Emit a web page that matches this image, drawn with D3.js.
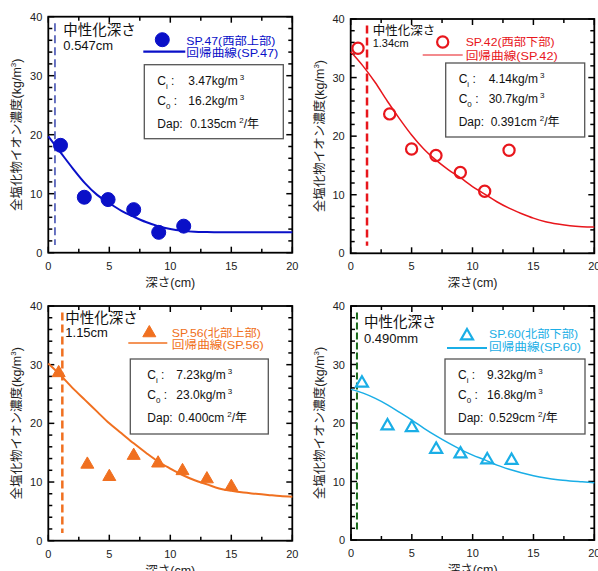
<!DOCTYPE html>
<html>
<head>
<meta charset="utf-8">
<script src="https://cdn.jsdelivr.net/npm/d3@7"></script>
<style>
  body { margin: 0; background: #fff; }
  svg { display: block; font-family: "Liberation Sans", "Noto Sans CJK JP", sans-serif; }
</style>
</head>
<body>
<svg id="chart" width="598" height="571"></svg>
<script>
// measured chloride profiles, depth in cm, content in kg/m3
const depth47 = [1.0, 2.95, 4.9, 7.0, 9.05, 11.1];
const chloride47 = [18.2, 9.4, 9.0, 7.3, 3.45, 4.5];
const depth42 = [0.6, 3.2, 5.0, 7.0, 9.0, 11.0, 13.0];
const chloride42 = [35.0, 23.8, 17.8, 16.7, 13.8, 10.6, 17.6];
const depth56 = [0.85, 3.2, 5.0, 7.0, 9.0, 11.0, 13.0, 15.0];
const chloride56 = [28.6, 13.0, 10.9, 14.5, 13.2, 11.9, 10.5, 9.2];
const depth60 = [0.9, 3.0, 5.0, 7.0, 9.0, 11.2, 13.2];
const chloride60 = [26.8, 19.5, 19.2, 15.5, 14.7, 13.7, 13.6];

// regression curves
const curveDepth = [0, 1, 2, 3, 4, 5, 6, 7, 8, 9, 10, 11, 12, 13, 14, 15, 16, 17, 18, 19, 20];
const fit47 = [19.7, 17.0, 14.3, 11.8, 9.8, 8.4, 7.1, 6.1, 5.2, 4.5, 4.0, 3.7, 3.55, 3.5, 3.47, 3.45, 3.45, 3.45, 3.45, 3.45, 3.45];
const fit42 = [34.4, 32.0, 29.2, 26.0, 23.0, 20.2, 17.8, 15.9, 14.3, 12.9, 11.4, 10.1, 8.8, 7.7, 6.8, 6.0, 5.4, 5.0, 4.7, 4.55, 4.5];
const fit56 = [30.2, 28.2, 26.0, 24.0, 22.0, 20.0, 18.3, 16.6, 15.0, 13.5, 12.3, 11.2, 10.3, 9.6, 8.9, 8.5, 8.2, 8.0, 7.8, 7.6, 7.5];
const fit60 = [25.75, 25.1, 24.2, 23.1, 21.8, 20.5, 19.1, 17.8, 16.6, 15.5, 14.5, 13.7, 12.8, 12.1, 11.5, 11.0, 10.6, 10.3, 10.1, 9.95, 9.8];

const sampleNames = ['SP.47(西部上部)', 'SP.42(西部下部)', 'SP.56(北部上部)', 'SP.60(北部下部)'];
const fitNames = ['回帰曲線(SP.47)', '回帰曲線(SP.42)', '回帰曲線(SP.56)', '回帰曲線(SP.60)'];
const neutralDepth = [0.547, 1.34, 1.15, 0.49];
const neutralLabels = ['0.547cm', '1.34cm', '1.15cm', '0.490mm'];
const ciValues = ['3.47', '4.14', '7.23', '9.32'];
const c0Values = ['16.2', '30.7', '23.0', '16.8'];
const dapValues = ['0.135', '0.391', '0.400', '0.529'];

const xTicks = [0, 5, 10, 15, 20];
const yTicks = [0, 10, 20, 30, 40];

const svg = d3.select('#chart');

// layout + style per panel
const panels = [
  { x0: 48.3, x1: 292.3, y0: 16.7, y1: 252.7, depth: depth47, value: chloride47, fit: fit47,
    color: '#0a10c8', marker: 'circle', filled: true, size: 7, curveW: 2,
    dash: '#1a2aa0', dashW: 1.3, dashArr: '8,4',
    neut: { x: 15, y: 18, y2: 33, fs: 14.5 },
    leg: { mx: 114, my: 23, lx0: 95, lx1: 137, ly: 35, lw: 2.2, tx: 138, ty1: 28.5, ty2: 40 },
    box: { x: 96, y: 48, w: 139, h: 74, cx: 13, vx: 44 } },
  { x0: 350.7, x1: 594.3, y0: 19, y1: 253.3, depth: depth42, value: chloride42, fit: fit42,
    color: '#e8161c', marker: 'circle', filled: false, size: 5.6, curveW: 1.5,
    dash: '#e8161c', dashW: 2.5, dashArr: '8,4',
    neut: { x: 22, y: 16, y2: 28, fs: 12.5 },
    leg: { mx: 92, my: 23, lx0: 72, lx1: 112, ly: 36, lw: 1.2, tx: 115, ty1: 27, ty2: 40.5 },
    box: { x: 95, y: 44, w: 139, h: 74, cx: 13, vx: 43 } },
  { x0: 48.3, x1: 292.3, y0: 306, y1: 540.7, depth: depth56, value: chloride56, fit: fit56,
    color: '#f07020', marker: 'triangle', filled: true, size: 13, curveW: 2,
    dash: '#f07020', dashW: 2.5, dashArr: '8,4',
    neut: { x: 17, y: 17, y2: 31, fs: 14.5 },
    leg: { mx: 101, my: 27, lx0: 80, lx1: 119, ly: 37, lw: 1.5, tx: 123.5, ty1: 31, ty2: 42.5 },
    box: { x: 82, y: 53, w: 138, h: 75, cx: 17, vx: 46 } },
  { x0: 351, x1: 594.3, y0: 306, y1: 540, depth: depth60, value: chloride60, fit: fit60,
    color: '#1aaee6', marker: 'triangle', filled: false, size: 12, curveW: 1.5,
    dash: '#1a6a1a', dashW: 2, dashArr: '7,3',
    neut: { x: 13, y: 21, y2: 37, fs: 14.5 },
    leg: { mx: 116, my: 30, lx0: 96, lx1: 136, ly: 42, lw: 2.2, tx: 138, ty1: 32, ty2: 45 },
    box: { x: 94, y: 53, w: 140, h: 75, cx: 13, vx: 42 } }
];

panels.forEach((p, i) => {
  const x = d3.scaleLinear().domain([0, 20]).range([p.x0, p.x1]);
  const y = d3.scaleLinear().domain([0, 40]).range([p.y1, p.y0]);
  const g = svg.append('g');

  // inward ticks on all four sides
  const xMinor = d3.range(0, 20.01, 2.5);
  const yMinor = d3.range(0, 40.01, 2);
  xMinor.forEach(v => {
    const len = v % 5 === 0 ? 6 : 4;
    g.append('line').attr('x1', x(v)).attr('x2', x(v)).attr('y1', p.y1).attr('y2', p.y1 - len)
      .attr('stroke', '#000').attr('stroke-width', 1.5);
    g.append('line').attr('x1', x(v)).attr('x2', x(v)).attr('y1', p.y0).attr('y2', p.y0 + len)
      .attr('stroke', '#000').attr('stroke-width', 1.5);
  });
  yMinor.forEach(v => {
    const len = v % 10 === 0 ? 6 : 4;
    g.append('line').attr('x1', p.x0).attr('x2', p.x0 + len).attr('y1', y(v)).attr('y2', y(v))
      .attr('stroke', '#000').attr('stroke-width', 1.5);
    g.append('line').attr('x1', p.x1).attr('x2', p.x1 - len).attr('y1', y(v)).attr('y2', y(v))
      .attr('stroke', '#000').attr('stroke-width', 1.5);
  });
  g.append('rect').attr('x', p.x0).attr('y', p.y0)
    .attr('width', p.x1 - p.x0).attr('height', p.y1 - p.y0)
    .attr('fill', 'none').attr('stroke', '#000').attr('stroke-width', 1.8);

  g.selectAll('.xt').data(xTicks).enter().append('text')
    .attr('x', d => x(d)).attr('y', p.y1 + 17)
    .attr('text-anchor', 'middle').attr('font-size', 11).attr('fill', '#222')
    .text(d => d);
  g.selectAll('.yt').data(yTicks).enter().append('text')
    .attr('x', p.x0 - 6).attr('y', d => y(d) + 4)
    .attr('text-anchor', 'end').attr('font-size', 11).attr('fill', '#222')
    .text(d => d);

  // axis titles
  g.append('text').attr('x', (p.x0 + p.x1) / 2).attr('y', p.y1 + 34)
    .attr('text-anchor', 'middle').attr('font-size', 12.5).attr('fill', '#222')
    .text('深さ(cm)');
  const yl = g.append('text')
    .attr('transform', `translate(${p.x0 - 27},${(p.y0 + p.y1) / 2}) rotate(-90)`)
    .attr('text-anchor', 'middle').attr('font-size', 12.5).attr('fill', '#222');
  yl.append('tspan').text('全塩化物イオン濃度(kg/m');
  yl.append('tspan').attr('font-size', 8).attr('dy', -5).text('3');
  yl.append('tspan').attr('dy', 5).text(')');

  // neutralization depth
  g.append('line')
    .attr('x1', x(neutralDepth[i])).attr('x2', x(neutralDepth[i]))
    .attr('y1', y(38.9)).attr('y2', y(1.3))
    .attr('stroke', p.dash).attr('stroke-width', p.dashW).attr('stroke-dasharray', p.dashArr);
  g.append('text').attr('x', p.x0 + p.neut.x).attr('y', p.y0 + p.neut.y)
    .attr('font-size', p.neut.fs).attr('fill', '#111').text('中性化深さ');
  g.append('text').attr('x', p.x0 + p.neut.x).attr('y', p.y0 + p.neut.y2)
    .attr('font-size', p.neut.fs - 1.5).attr('fill', '#111').text(neutralLabels[i]);

  // fitted curve
  const line = d3.line().x(d => x(d[0])).y(d => y(d[1])).curve(d3.curveMonotoneX);
  g.append('path').datum(d3.zip(curveDepth, p.fit))
    .attr('d', line).attr('fill', 'none').attr('stroke', p.color).attr('stroke-width', p.curveW);

  // markers
  const drawMarker = (sel) => {
    if (p.marker === 'circle') {
      sel.append('circle').attr('r', p.size);
    } else {
      const s = p.size;
      const h = s * Math.sqrt(3) / 2;
      sel.append('path').attr('d', `M0,${-h * 2 / 3}L${s / 2},${h / 3}L${-s / 2},${h / 3}Z`);
    }
    sel.selectAll('circle,path')
      .attr('fill', p.filled ? p.color : 'none')
      .attr('stroke', p.color)
      .attr('stroke-width', p.filled ? 1 : 2.2);
  };
  g.selectAll('.pt').data(d3.zip(p.depth, p.value)).enter().append('g')
    .attr('transform', d => `translate(${x(d[0])},${y(d[1])})`)
    .call(drawMarker);

  // legend (wide glyphs, short line pitch as in the original)
  const L = p.leg;
  svg.append('g').attr('transform', `translate(${p.x0 + L.mx},${p.y0 + L.my})`).call(drawMarker);
  g.append('line').attr('x1', p.x0 + L.lx0).attr('x2', p.x0 + L.lx1)
    .attr('y1', p.y0 + L.ly).attr('y2', p.y0 + L.ly)
    .attr('stroke', p.color).attr('stroke-width', L.lw);
  g.append('text').attr('x', p.x0 + L.tx).attr('y', p.y0 + L.ty1)
    .attr('font-size', 11.5).attr('fill', p.color)
    .attr('textLength', 89).attr('lengthAdjust', 'spacingAndGlyphs')
    .text(sampleNames[i]);
  g.append('text').attr('x', p.x0 + L.tx).attr('y', p.y0 + L.ty2)
    .attr('font-size', 11.5).attr('fill', p.color)
    .attr('textLength', 92).attr('lengthAdjust', 'spacingAndGlyphs')
    .text(fitNames[i]);

  // parameter box
  const B = p.box;
  const bx = p.x0 + B.x, by = p.y0 + B.y;
  g.append('rect').attr('x', bx).attr('y', by).attr('width', B.w).attr('height', B.h)
    .attr('fill', '#fff').attr('stroke', '#555').attr('stroke-width', 1.3);
  const fs = 12;
  [['i', ciValues[i]], ['0', c0Values[i]]].forEach((row, k) => {
    const t = g.append('text').attr('x', bx + B.cx).attr('y', by + 20 + k * 20)
      .attr('font-size', fs).attr('fill', '#111');
    t.append('tspan').text('C');
    t.append('tspan').attr('font-size', 8).attr('dy', 4).text(row[0]);
    t.append('tspan').attr('dy', -4).text(' :');
    const v = g.append('text').attr('x', bx + B.vx).attr('y', by + 20 + k * 20)
      .attr('font-size', fs).attr('fill', '#111');
    v.append('tspan').text(row[1] + 'kg/m');
    v.append('tspan').attr('font-size', 8).attr('dy', -5).attr('dx', 2).text('3');
  });
  const d = g.append('text').attr('x', bx + B.cx).attr('y', by + 63)
    .attr('font-size', fs).attr('fill', '#111');
  d.append('tspan').text('Dap: ');
  d.append('tspan').attr('x', bx + B.vx + 2).text(dapValues[i] + 'cm');
  d.append('tspan').attr('font-size', 8).attr('dy', -5).attr('dx', 3).text('2');
  d.append('tspan').attr('dy', 5).text('/年');
});
</script>
</body>
</html>
